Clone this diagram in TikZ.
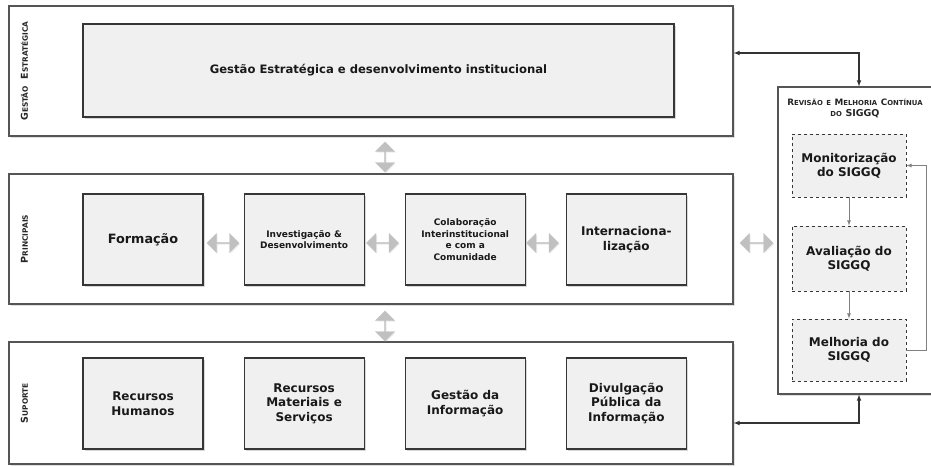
\documentclass[tikz,border=0pt]{standalone}
\usepackage{fontspec}
\setmainfont{DejaVu Sans}
\usepackage{tikz}
\usetikzlibrary{positioning, shapes.arrows, shadows, arrows}

\definecolor{boxfill}{HTML}{F0F0F0}
\definecolor{boxline}{HTML}{363636}
\definecolor{frameline}{HTML}{555555}
\definecolor{bigarrow}{HTML}{C0C0C0}
\definecolor{linkline}{HTML}{333333}

% fake small caps: first letter big, rest small
\newcommand{\scap}[2]{{\fontsize{9.5}{9.5}\selectfont #1}{\fontsize{7.4}{7.4}\selectfont #2}}
\newcommand{\tcap}[2]{{\fontsize{8.8}{8.8}\selectfont #1}{\fontsize{6.9}{6.9}\selectfont #2}}

\begin{document}
\begin{tikzpicture}[x=1pt,y=-1pt,>=latex,
    layer/.style={draw=frameline,line width=1.1pt,fill=white,minimum width=724pt,inner sep=0pt,
      drop shadow={shadow xshift=2pt,shadow yshift=-2pt,opacity=0.25}},
    proc/.style={draw=boxline,line width=1.1pt,fill=boxfill,minimum width=120pt,minimum height=91pt,
      align=center,inner sep=2pt,text=black!90,font=\fontsize{12}{14.5}\selectfont\bfseries,
      drop shadow={shadow xshift=2pt,shadow yshift=-2pt,opacity=0.3}},
    etapa/.style={draw=boxline,line width=0.9pt,dashed,fill=boxfill,minimum width=114pt,minimum height=63pt,
      align=center,text=black!90,font=\fontsize{12}{14.5}\selectfont\bfseries},
    sidelabel/.style={rotate=90,text=black!85,font=\bfseries},
    fat/.style={double arrow,fill=bigarrow,draw=gray!45,line width=0.4pt,minimum width=19pt,
      double arrow head extend=3.5pt,inner sep=0pt,
      drop shadow={shadow xshift=1pt,shadow yshift=-1pt,opacity=0.15}},
    link/.style={draw=linkline,line width=1.1pt},
    thinlink/.style={draw=gray,line width=0.8pt}]
  \useasboundingbox (0,0) rectangle (931,466);

  % layers
  \node[layer,minimum height=130pt] (gest) at (371,71) {};
  \node[layer,minimum height=130pt] (princ) at (371,239) {};
  \node[layer,minimum height=122pt] (sup) at (371,403) {};
  \node[layer,minimum width=162pt,minimum height=307pt] (rev) at (859,240.5) {};

  \node[sidelabel] (lgest) at ([xshift=16pt]gest.west) {\scap{G}{ESTÃO}\ \ \scap{E}{STRATÉGICA}};
  \node[sidelabel] (lprinc) at ([xshift=16pt]princ.west) {\scap{P}{RINCIPAIS}};
  \node[sidelabel] (lsup) at ([xshift=16pt]sup.west) {\scap{S}{UPORTE}};

  % gestao estrategica
  \node[proc,minimum width=591pt,minimum height=93pt,font=\fontsize{11.6}{13}\selectfont\bfseries] (estr) at (378.5,70.5)
    {Gestão Estratégica e desenvolvimento institucional};

  % principais
  \node[proc,font=\fontsize{12.8}{15}\selectfont\bfseries] (form) at (143,239.5) {Formação};
  \node[proc,font=\fontsize{9}{11.8}\selectfont\bfseries] (invest) [right=40pt of form] {Investigação \&\\Desenvolvimento};
  \node[proc,font=\fontsize{9}{11.8}\selectfont\bfseries] (colab) [right=40pt of invest] {Colaboração\\Interinstitucional\\e com a\\Comunidade};
  \node[proc] (inter) [right=40pt of colab] {Internaciona-\\lização};

  % suporte
  \node[proc] (rh) at (143,403.5) {Recursos\\Humanos};
  \node[proc] (rm) [right=40pt of rh] {Recursos\\Materiais e\\Serviços};
  \node[proc] (gi) [right=40pt of rm] {Gestão da\\Informação};
  \node[proc] (dp) [right=40pt of gi] {Divulgação\\Pública da\\Informação};

  % revisao e melhoria continua
  \node[align=center,text=black!85,font=\bfseries,inner sep=0pt] (revtit) at (855,108)
    {\tcap{R}{EVISÃO}\ {\fontsize{6.9}{6.9}\selectfont E} \tcap{M}{ELHORIA}\ \tcap{C}{ONTÍNUA}\\[-1pt]
     {\fontsize{6.9}{6.9}\selectfont DO} {\fontsize{9.5}{9.5}\selectfont SIGGQ}};
  \node[etapa] (monit) at (849,165.5) {Monitorização\\do SIGGQ};
  \node[etapa,minimum height=65pt] (aval) at (849,258.5) {Avaliação do\\SIGGQ};
  \node[etapa,minimum height=62pt] (melh) at (849,350) {Melhoria do\\SIGGQ};
  \coordinate (back) at (926,349);

  % block arrows
  \node[fat,rotate=90,minimum height=30pt] (g2p) at (385,157) {};
  \node[fat,rotate=90,minimum height=30pt] (p2s) at (385,326) {};
  \node[fat,minimum height=32pt] (f2i) at (223,243) {};
  \node[fat,minimum height=32pt] (i2c) at (382.5,243) {};
  \node[fat,minimum height=32pt] (c2n) at (542.5,243) {};
  \node[fat,minimum height=33pt] (p2r) at (756.5,243) {};

  % links
  \draw[link,<->] ([yshift=18pt]gest.east) -| (rev.north);
  \draw[link,<->] (rev.south) |- ([yshift=-20pt]sup.east);
  \draw[thinlink,->] (monit) -- (aval);
  \draw[thinlink,->] (aval) -- (melh);
  \draw[thinlink,->] (melh.east) -- (melh.east -| back) |- (monit.east);
\end{tikzpicture}
\end{document}
